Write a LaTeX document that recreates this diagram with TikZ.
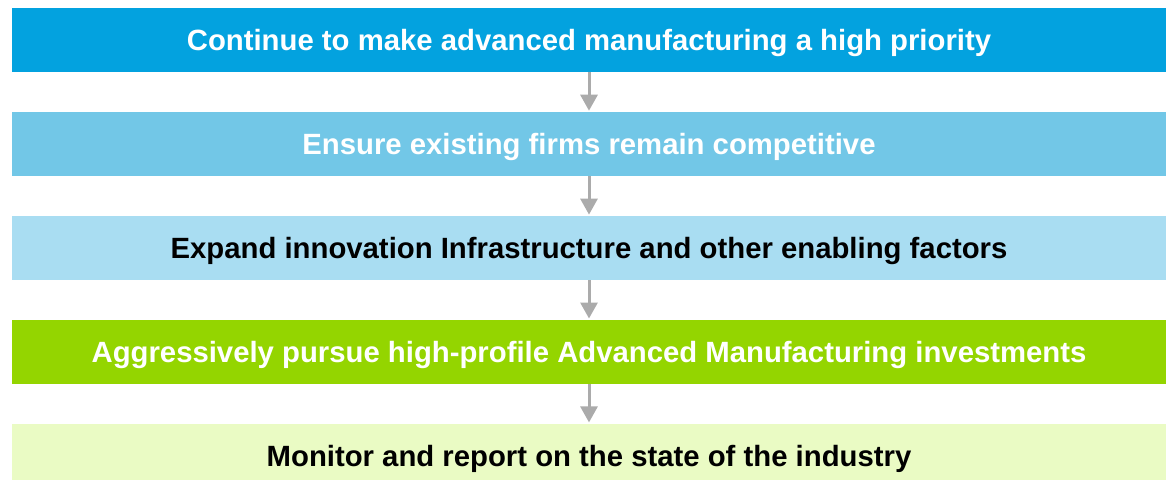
\documentclass[tikz,border=0pt]{standalone}
\usepackage{fontspec}
\setmainfont{Liberation Sans}
\usetikzlibrary{arrows.meta,positioning}
\definecolor{prioblue}{HTML}{03A2DF}
\definecolor{midblue}{HTML}{72C7E7}
\definecolor{paleblue}{HTML}{A9DDF2}
\definecolor{limegreen}{HTML}{94D500}
\definecolor{palegreen}{HTML}{EAFBC4}
\definecolor{arrowgray}{HTML}{ABABAB}
\tikzset{
  stepbox/.style={minimum width=1154pt,minimum height=64pt,inner sep=0pt,
    text height=21pt,text depth=0pt,font=\fontsize{29.3}{32}\selectfont\bfseries},
  flow/.style={arrowgray,line width=3pt,-{Triangle[length=16pt,width=17pt]},shorten >=1pt}
}

\begin{document}
\begin{tikzpicture}[node distance=39.5pt]
\useasboundingbox (0,0) rectangle (1166pt,-479pt);
\node[stepbox,fill=prioblue,text=white] (prio) at (589pt,-40pt) {Continue to make advanced manufacturing a high priority};
\node[stepbox,fill=midblue,text=white,below=of prio] (compete) {Ensure existing firms remain competitive};
\node[stepbox,fill=paleblue,text=black,below=of compete] (infra) {Expand innovation Infrastructure and other enabling factors};
\node[stepbox,fill=limegreen,text=white,below=of infra] (invest) {Aggressively pursue high-profile Advanced Manufacturing investments};
\node[stepbox,fill=palegreen,text=black,below=of invest] (monitor) {Monitor and report on the state of the industry};
\foreach \a/\b in {prio/compete,compete/infra,infra/invest,invest/monitor}
  \draw[flow] (\a.south) -- (\b.north);
\end{tikzpicture}
\end{document}
